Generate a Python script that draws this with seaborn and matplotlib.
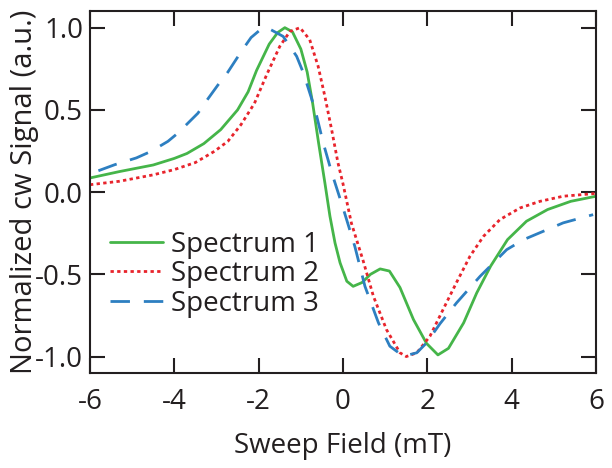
import numpy as np
import pandas as pd
import matplotlib
matplotlib.use("Agg")
import matplotlib.pyplot as plt
import seaborn as sns

# ---- data ----
x1 = [-6.0, -5.3, -4.5, -4.0, -3.7, -3.3, -2.9, -2.5, -2.25, -2.05, -1.75, -1.55, -1.38,
      -1.2, -1.0, -0.85, -0.72, -0.58, -0.43, -0.31, -0.19, -0.07, 0.09, 0.24, 0.45, 0.65,
      0.88, 1.1, 1.35, 1.67, 1.98, 2.25, 2.5, 2.86, 3.17, 3.5, 3.9, 4.35, 4.85, 5.4, 6.0]
y1 = [0.086, 0.125, 0.165, 0.205, 0.235, 0.295, 0.38, 0.50, 0.61, 0.74, 0.90, 0.97, 1.0,
      0.975, 0.87, 0.73, 0.54, 0.30, 0.056, -0.147, -0.309, -0.43, -0.542, -0.573, -0.55, -0.50,
      -0.467, -0.48, -0.58, -0.775, -0.92, -0.99, -0.95, -0.795, -0.613, -0.45, -0.289, -0.177,
      -0.106, -0.056, -0.025]

x2 = [-6.0, -5.3, -4.5, -4.0, -3.5, -3.05, -2.73, -2.42, -2.1, -1.81, -1.5, -1.26, -1.02,
      -0.79, -0.59, -0.43, -0.27, -0.12, 0.0, 0.2, 0.48, 0.72, 1.03, 1.35, 1.5, 1.75, 2.06,
      2.38, 2.69, 3.01, 3.33, 3.72, 4.2, 4.67, 5.22, 6.0]
y2 = [0.045, 0.066, 0.105, 0.137, 0.18, 0.248, 0.309, 0.41, 0.54, 0.714, 0.886, 0.977, 1.0,
      0.927, 0.765, 0.582, 0.38, 0.178, 0.05, -0.19, -0.42, -0.633, -0.836, -0.977, -1.0, -0.977,
      -0.877, -0.71, -0.55, -0.39, -0.269, -0.167, -0.096, -0.056, -0.025, -0.008]

x3 = [-5.8, -5.41, -4.9, -4.55, -4.15, -3.91, -3.44, -3.28, -2.97, -2.73, -2.41, -2.18, -1.95,
      -1.8, -1.42, -1.1, -0.94, -0.66, -0.47, -0.27, 0.0, 0.28, 0.52, 0.84, 1.11, 1.43, 1.75,
      1.98, 2.3, 2.69, 3.25, 3.88, 4.28, 4.75, 5.22, 5.93]
y3 = [0.13, 0.167, 0.208, 0.248, 0.309, 0.36, 0.48, 0.54, 0.65, 0.73, 0.856, 0.94, 0.99,
      1.0, 0.947, 0.826, 0.725, 0.50, 0.30, 0.12, -0.096, -0.33, -0.573, -0.795, -0.937, -0.998,
      -0.977, -0.917, -0.80, -0.674, -0.512, -0.35, -0.289, -0.238, -0.187, -0.137]

series_names = ["Spectrum 1", "Spectrum 2", "Spectrum 3"]
xticks = [-6, -4, -2, 0, 2, 4, 6]
xticklabels = ["-6", "-4", "-2", "0", "2", "4", "6"]
yticks = [1.0, 0.5, 0.0, -0.5, -1.0]
yticklabels = ["1.0", "0.5", "0.0", "-0.5", "-1.0"]

df = pd.concat([
    pd.DataFrame({"x": x1, "y": y1, "series": series_names[0]}),
    pd.DataFrame({"x": x2, "y": y2, "series": series_names[1]}),
    pd.DataFrame({"x": x3, "y": y3, "series": series_names[2]}),
], ignore_index=True)

sns.set_style("ticks")
plt.rcParams["font.family"] = ["Open Sans", "DejaVu Sans"]

fig = plt.figure(figsize=(6.12, 4.68), dpi=100)
ax = fig.add_axes([0.147, 0.203, 0.827, 0.773])

palette = {"Spectrum 1": "#45b549", "Spectrum 2": "#e8242c", "Spectrum 3": "#2d7fc1"}
dashes = {"Spectrum 1": "", "Spectrum 2": (1.2, 1.2), "Spectrum 3": (7, 5)}
sns.lineplot(data=df, x="x", y="y", hue="series", style="series", palette=palette,
             dashes=dashes, sort=False, estimator=None, errorbar=None,
             linewidth=2.0, ax=ax)

FS = 20
ax.set_xlim(-6, 6)
ax.set_ylim(-1.1, 1.1)
ax.set_xticks(xticks)
ax.set_xticklabels(xticklabels)
ax.set_yticks(yticks)
ax.set_yticklabels(yticklabels)
ax.tick_params(direction="in", length=11, width=1.5, labelsize=FS, top=True, right=True,
               colors="#231f20", pad=5)
ax.tick_params(axis="x", pad=11)
for s in ax.spines.values():
    s.set_linewidth(1.5)
    s.set_color("#231f20")
ax.set_xlabel("Sweep Field (mT)", fontsize=FS, color="#231f20", labelpad=11)
ax.set_ylabel("Normalized cw Signal (a.u.)", fontsize=FS + 1, color="#231f20", labelpad=-3)

leg = ax.legend(loc="upper left", bbox_to_anchor=(0.04, 0.393), frameon=False,
                fontsize=FS, handlelength=1.9, handletextpad=0.3, labelspacing=0.05,
                borderaxespad=0, borderpad=0)
for t in leg.get_texts():
    t.set_color("#231f20")

fig.savefig("out.png", dpi=100)
